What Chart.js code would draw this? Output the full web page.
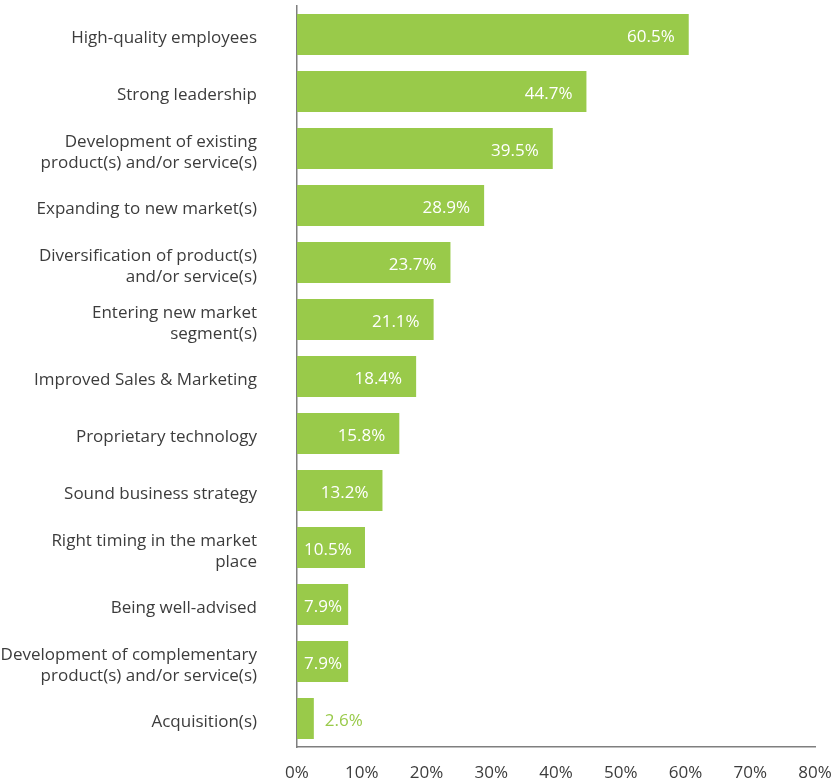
<!DOCTYPE html>
<html>
<head>
<meta charset="utf-8">
<script src="https://cdn.jsdelivr.net/npm/chart.js@4.4.1/dist/chart.umd.min.js"></script>
<style>
    html, body { margin: 0; padding: 0; background: #fff; }
    #wrap { width: 835px; height: 779px; }
</style>
</head>
<body>
<div id="wrap"><canvas id="bar-chartcanvas"></canvas></div>
<script>
// categories (multi-line ones as arrays)
var categories = [
    "High-quality employees",
    "Strong leadership",
    ["Development of existing", "product(s) and/or service(s)"],
    "Expanding to new market(s)",
    ["Diversification of product(s)", "and/or service(s)"],
    ["Entering new market", "segment(s)"],
    "Improved Sales & Marketing",
    "Proprietary technology",
    "Sound business strategy",
    ["Right timing in the market", "place"],
    "Being well-advised",
    ["Development of complementary", "product(s) and/or service(s)"],
    "Acquisition(s)"
];
var values = [60.5, 44.7, 39.5, 28.9, 23.7, 21.1, 18.4, 15.8, 13.2, 10.5, 7.9, 7.9, 2.6];
var tickValues = [0, 10, 20, 30, 40, 50, 60, 70, 80];

var green = "#99ca4a";
var fontFamily = "'Open Sans', 'Noto Sans', sans-serif";

//value labels at the end of each bar
var valueLabels = {
    id: "valueLabels",
    afterDatasetsDraw: function(chart) {
        var ctx = chart.ctx;
        var meta = chart.getDatasetMeta(0);
        ctx.save();
        ctx.font = "17px " + fontFamily;
        ctx.textBaseline = "middle";
        meta.data.forEach(function(bar, i) {
            var text = values[i].toFixed(1) + "%";
            var w = ctx.measureText(text).width;
            var left = bar.base;
            var right = bar.x;
            if (right - left >= w + 10) {
                ctx.fillStyle = "#fff";
                var x = right - 14 - w;
                if (x < left + 7) x = left + 7;
                ctx.textAlign = "left";
                ctx.fillText(text, x, bar.y + 3);
            } else {
                ctx.fillStyle = green;
                ctx.textAlign = "left";
                ctx.fillText(text, right + 11, bar.y + 3);
            }
        });
        ctx.restore();
    }
};

var ctx = document.getElementById("bar-chartcanvas");

var chart = new Chart(ctx, {
    type: "bar",
    data: {
        labels: categories,
        datasets: [{
            data: values,
            backgroundColor: green,
            borderWidth: 0,
            categoryPercentage: 0.72,
            barPercentage: 1
        }]
    },
    options: {
        indexAxis: "y",
        responsive: true,
        maintainAspectRatio: false,
        animation: false,
        layout: { padding: { top: 6, right: 20, bottom: 0, left: 0 } },
        plugins: {
            legend: { display: false },
            tooltip: { enabled: false }
        },
        scales: {
            x: {
                min: 0,
                max: 80,
                afterBuildTicks: function(scale) {
                    scale.ticks = tickValues.map(function(v) { return { value: v }; });
                },
                grid: { display: false, drawTicks: false },
                border: { display: true, color: "#7f7f7f", width: 1.5 },
                ticks: {
                    padding: 16,
                    color: "#3c3c3c",
                    font: { family: fontFamily, size: 17 },
                    maxRotation: 0,
                    callback: function(v) { return v + "%"; }
                },
                afterFit: function(scale) {
                    scale.height = 32;
                    scale.paddingLeft = 0;
                    scale.paddingRight = 0;
                }
            },
            y: {
                grid: { display: false, drawTicks: false },
                border: { display: true, color: "#7f7f7f", width: 1.5 },
                ticks: {
                    padding: 40,
                    labelOffset: 4,
                    color: "#3c3c3c",
                    font: { family: fontFamily, size: 17, lineHeight: 1.25 },
                    autoSkip: false
                },
                afterFit: function(scale) {
                    scale.width = 297;
                    scale.paddingTop = 0;
                    scale.paddingBottom = 0;
                }
            }
        }
    },
    plugins: [valueLabels]
});
</script>
</body>
</html>
